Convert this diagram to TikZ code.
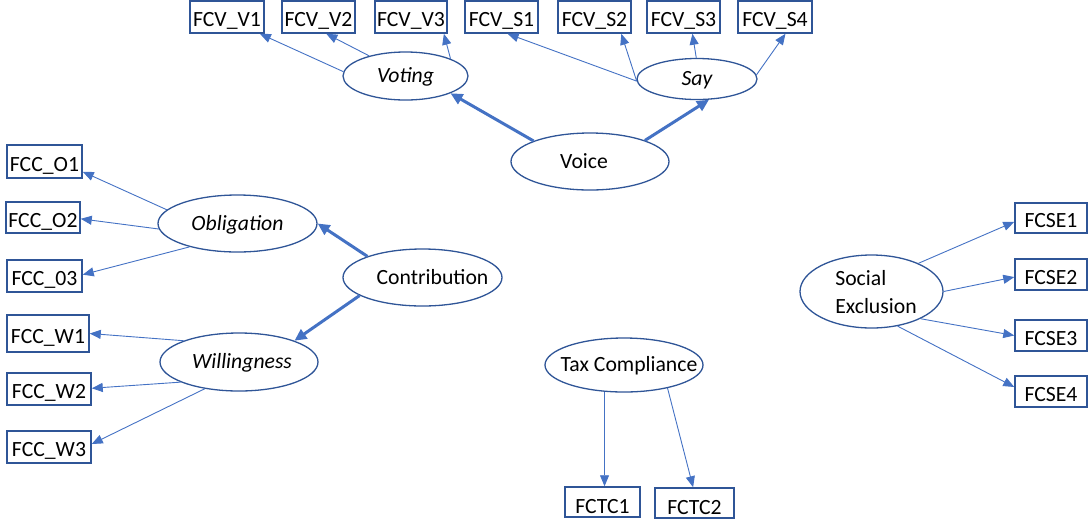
\documentclass[tikz,border=0pt]{standalone}
\usepackage{fontspec}
\setmainfont{Carlito}
\usetikzlibrary{shapes.geometric,arrows.meta}
\definecolor{frame}{HTML}{2F5597}
\definecolor{link}{HTML}{4472C4}
\begin{document}
\begin{tikzpicture}[x=1pt,y=-1pt,
  every node/.style={font=\fontsize{21.7}{26}\selectfont},
  item/.style={draw=frame, line width=1.5pt, inner xsep=2pt, inner ysep=0pt,
    text height=22pt, text depth=2.5pt, minimum height=32pt},
  lat/.style={ellipse, draw=frame, line width=1.3pt, inner sep=0pt},
  lbl/.style={inner sep=0pt, text height=14pt, text depth=0.5pt},
  itl/.style={font=\fontsize{21.7}{26}\selectfont\itshape},
  load/.style={draw=link, line width=0.9pt, -{Triangle[length=11pt,width=9pt]}},
  struct/.style={draw=link, line width=3pt, -{Triangle[length=12pt,width=11pt]}}]
\useasboundingbox (0,0) rectangle (1089,523);

% indicator boxes: Voice
\node[item, minimum width=74pt] (v1) at (227,17) {FCV\_V1};
\node[item, minimum width=73pt] (v2) at (318.5,17) {FCV\_V2};
\node[item, minimum width=72pt] (v3) at (411,17) {FCV\_V3};
\node[item, minimum width=73pt] (s1) at (501.5,17) {FCV\_S1};
\node[item, minimum width=73pt] (s2) at (594.5,17) {FCV\_S2};
\node[item, minimum width=73pt] (s3) at (683.5,17) {FCV\_S3};
\node[item, minimum width=74pt] (s4) at (775,17) {FCV\_S4};

% indicator boxes: Contribution
\node[item, minimum width=75pt, minimum height=33pt] (o1) at (44.5,161.5) {FCC\_O1};
\node[item, minimum width=74pt, minimum height=31pt] (o2) at (43,217.5) {FCC\_O2};
\node[item, minimum width=75pt] (o3) at (44.5,276) {FCC\_03};
\node[item, minimum width=82pt, minimum height=37pt] (w1) at (48,333.5) {FCC\_W1};
\node[item, minimum width=84pt] (w2) at (49,389) {FCC\_W2};
\node[item, minimum width=84pt] (w3) at (49,447) {FCC\_W3};

% indicator boxes: Tax Compliance
\node[item, minimum width=75pt, minimum height=30pt, text height=24pt, text depth=0.5pt] (fctc1) at (602.5,502) {FCTC1};
\node[item, minimum width=79pt, minimum height=30pt, text height=24pt, text depth=0.5pt] (fctc2) at (694.5,503) {FCTC2};

% indicator boxes: Social Exclusion
\node[item, minimum width=72pt, minimum height=30pt] (se1) at (1051,218) {FCSE1};
\node[item, minimum width=72pt, minimum height=31pt] (se2) at (1051,274.5) {FCSE2};
\node[item, minimum width=72pt, minimum height=31pt] (se3) at (1051,335.5) {FCSE3};
\node[item, minimum width=72pt, minimum height=31pt] (se4) at (1051,391.5) {FCSE4};

% latent constructs
\node[lat, minimum width=125pt, minimum height=48pt,
  label={[lbl, itl]center:Voting}] (voting) at (405.5,76) {};
\node[lat, minimum width=120pt, minimum height=41pt,
  label={[lbl, itl]center:Say}] (say) at (697,79) {};
\node[lat, minimum width=158pt, minimum height=57pt,
  label={[lbl, xshift=-6pt]center:Voice}] (voice) at (590,161.5) {};
\node[lat, minimum width=159pt, minimum height=57pt,
  label={[lbl, itl]center:Obligation}] (obl) at (237.5,223.5) {};
\node[lat, minimum width=159pt, minimum height=57pt,
  label={[lbl, xshift=10pt]center:Contribution}] (contr) at (422.5,277.5) {};
\node[lat, minimum width=158pt, minimum height=58pt,
  label={[lbl, itl, xshift=3pt]center:Willingness}] (will) at (239,362) {};
\node[lat, minimum width=158pt, minimum height=54pt,
  label={[lbl, xshift=5pt]center:Tax Compliance}] (tax) at (624,365) {};
\node[lat, minimum width=143pt, minimum height=73pt,
  label={[inner sep=0pt, align=left, xshift=4.5pt, yshift=-1pt,
    font=\fontsize{21.7}{28}\selectfont]center:Social\\Exclusion}] (social) at (871.5,291.5) {};

% Voice measurement
\draw[load] (voting.176) -- (v1.-27);
\draw[load] (voting.151) -- (v2.-65);
\draw[load] (voting.21) -- (v3.-27);
\draw[load] (say.182) -- (s1.-70);
\draw[load] (say.182) -- (s2.-32);
\draw[load] (say.92) -- (s3.-62);
\draw[load] (say.4) -- (s4.-58);
\draw[struct] (voice.160) -- (voting.-21);
\draw[struct] (voice.21) -- (say.-60);

% Contribution measurement
\draw[load] (obl.169) -- (o1.-15);
\draw[load] (obl.184) -- (o2.-2);
\draw[load] (obl.206) -- (o3.2);
\draw[struct] (contr.159) -- (obl.east);
\draw[struct] (contr.196) -- (will.21);
\draw[load] (will.159) -- (w1.east);
\draw[load] (will.199) -- (w2.1);
\draw[load] (will.218) -- (w3.4);

% Tax Compliance measurement
\draw[load] (tax.234) -- (tax.234 |- fctc1.north);
\draw[load] (tax.-28) -- (fctc2.95);

% Social Exclusion measurement
\draw[load] (social.31) -- (se1.186);
\draw[load] (social.east) -- (se2.184);
\draw[load] (social.-29) -- (se3.west);
\draw[load] (social.-53) -- (se4.173);
\end{tikzpicture}
\end{document}
